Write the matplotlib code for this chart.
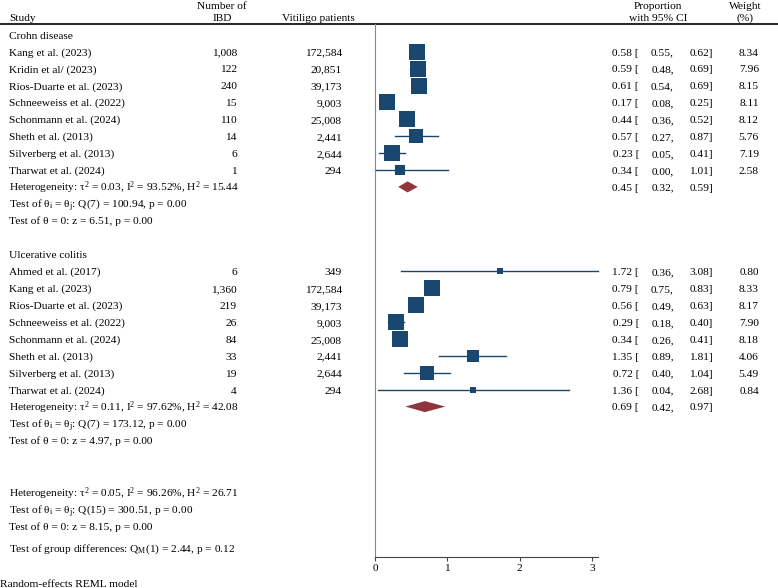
import matplotlib
matplotlib.use('Agg')
import matplotlib.pyplot as plt
import numpy as np

plt.rcParams['font.family'] = 'Liberation Serif'
plt.rcParams['mathtext.fontset'] = 'custom'
plt.rcParams['mathtext.rm'] = 'Liberation Serif'
plt.rcParams['mathtext.it'] = 'Liberation Serif:italic'
plt.rcParams['mathtext.bf'] = 'Liberation Serif:bold'
plt.rcParams['font.size'] = 8.2

# Crohn disease
cd_studies = ['Kang et al. (2023)', 'Kridin et al/ (2023)', 'Rios-Duarte et al. (2023)',
              'Schneeweiss et al. (2022)', 'Schonmann et al. (2024)', 'Sheth et al. (2013)',
              'Silverberg et al. (2013)', 'Tharwat et al. (2024)']
cd_ibd = [1008, 122, 240, 15, 110, 14, 6, 1]
cd_vit = [172584, 20851, 39173, 9003, 25008, 2441, 2644, 294]
cd_est = [0.58, 0.59, 0.61, 0.17, 0.44, 0.57, 0.23, 0.34]
cd_lo = [0.55, 0.48, 0.54, 0.08, 0.36, 0.27, 0.05, 0.00]
cd_hi = [0.62, 0.69, 0.69, 0.25, 0.52, 0.87, 0.41, 1.01]
cd_w = [8.34, 7.96, 8.15, 8.11, 8.12, 5.76, 7.19, 2.58]
cd_sum = [0.45, 0.32, 0.59]
cd_stats = ['Heterogeneity: τ$^\\mathrm{2}$ = 0.03, I$^\\mathrm{2}$ = 93.52%, H$^\\mathrm{2}$ = 15.44',
            'Test of θ$_\\mathrm{i}$ = θ$_\\mathrm{j}$: Q(7) = 100.94, p = 0.00',
            'Test of θ = 0: z = 6.51, p = 0.00']

# Ulcerative colitis
uc_studies = ['Ahmed et al. (2017)', 'Kang et al. (2023)', 'Rios-Duarte et al. (2023)',
              'Schneeweiss et al. (2022)', 'Schonmann et al. (2024)', 'Sheth et al. (2013)',
              'Silverberg et al. (2013)', 'Tharwat et al. (2024)']
uc_ibd = [6, 1360, 219, 26, 84, 33, 19, 4]
uc_vit = [349, 172584, 39173, 9003, 25008, 2441, 2644, 294]
uc_est = [1.72, 0.79, 0.56, 0.29, 0.34, 1.35, 0.72, 1.36]
uc_lo = [0.36, 0.75, 0.49, 0.18, 0.26, 0.89, 0.40, 0.04]
uc_hi = [3.08, 0.83, 0.63, 0.40, 0.41, 1.81, 1.04, 2.68]
uc_w = [0.80, 8.33, 8.17, 7.90, 8.18, 4.06, 5.49, 0.84]
uc_sum = [0.69, 0.42, 0.97]
uc_stats = ['Heterogeneity: τ$^\\mathrm{2}$ = 0.11, I$^\\mathrm{2}$ = 97.62%, H$^\\mathrm{2}$ = 42.08',
            'Test of θ$_\\mathrm{i}$ = θ$_\\mathrm{j}$: Q(7) = 173.12, p = 0.00',
            'Test of θ = 0: z = 4.97, p = 0.00']

overall_stats = ['Heterogeneity: τ$^\\mathrm{2}$ = 0.05, I$^\\mathrm{2}$ = 96.26%, H$^\\mathrm{2}$ = 26.71',
                 'Test of θ$_\\mathrm{i}$ = θ$_\\mathrm{j}$: Q(15) = 300.51, p = 0.00',
                 'Test of θ = 0: z = 8.15, p = 0.00']
group_test = 'Test of group differences: Q$_\\mathrm{M}$(1) = 2.44, p = 0.12'

navy = '#1A476F'
maroon = '#90353B'
W, H = 778, 588

fig = plt.figure(figsize=(W / 100, H / 100), dpi=100)
tx = fig.add_axes([0, 0, 1, 1])
tx.set_xlim(0, W)
tx.set_ylim(H, 0)
tx.axis('off')

fa = fig.add_axes([375 / W, 1 - 557 / H, (598 - 375) / W, (557 - 24) / H])
fa.set_xlim(0, 3.08)
fa.set_ylim(557, 24)
fa.patch.set_visible(False)
for s in ['top', 'right']:
    fa.spines[s].set_visible(False)
fa.spines['left'].set_color('#888888')
fa.spines['bottom'].set_color('#444444')
fa.set_yticks([])
fa.set_xticks([0, 1, 2, 3])
fa.tick_params(axis='x', length=3, color='#444444', pad=2, labelsize=8.2)


def rowy(i):
    return 34.8 + 16.9 * i


def t(x, y, s, ha='left'):
    # baseline placement so mathtext rows line up with plain rows
    tx.text(x, y + 3.8, s, va='baseline', ha=ha)


# header
t(9, 17, 'Study')
t(222, 5, 'Number of', 'center')
t(222, 17, 'IBD', 'center')
t(318, 17, 'Vitiligo patients', 'center')
t(658, 5, 'Proportion', 'center')
t(658, 17, 'with 95% CI', 'center')
t(745, 5, 'Weight', 'center')
t(745, 17, '(%)', 'center')
tx.plot([0, W], [24, 24], color='black', lw=1.2)


def ci_text(y, est, lo, hi):
    t(639, y, '%.2f [' % est, 'right')
    t(674, y, '%.2f,' % lo, 'right')
    t(713, y, '%.2f]' % hi, 'right')


def group(start, title, studies, ibd, vit, est, lo, hi, w, summ, stats):
    t(9, rowy(start), title)
    for k in range(len(studies)):
        y = rowy(start + 1 + k)
        t(9, y, studies[k])
        t(237, y, '{:,}'.format(ibd[k]), 'right')
        t(342, y, '{:,}'.format(vit[k]), 'right')
        ci_text(y, est[k], lo[k], hi[k])
        t(759, y, '%.2f' % w[k], 'right')
        fa.plot([lo[k], hi[k]], [y, y], color=navy, lw=1, clip_on=False, zorder=2)
        fa.plot(est[k], y, marker='s', ms=5.7 * np.sqrt(w[k]) * 0.72, color=navy,
                mew=0, clip_on=False, zorder=3)
    ys = rowy(start + 1 + len(studies))
    fa.fill([summ[1], summ[0], summ[2], summ[0]], [ys, ys - 5.5, ys, ys + 5.5],
            color=maroon, lw=0, clip_on=False, zorder=3)
    ci_text(ys, *summ)
    for k, s in enumerate(stats):
        t(9, rowy(start + 1 + len(studies) + k), s)


group(0, 'Crohn disease', cd_studies, cd_ibd, cd_vit, cd_est, cd_lo, cd_hi, cd_w, cd_sum, cd_stats)
group(13, 'Ulcerative colitis', uc_studies, uc_ibd, uc_vit, uc_est, uc_lo, uc_hi, uc_w, uc_sum, uc_stats)

for k, s in enumerate(overall_stats):
    t(9, rowy(27.1 + k), s)
t(9, 548, group_test)
t(0, 583, 'Random-effects REML model')

fig.savefig('out.png', dpi=100)
